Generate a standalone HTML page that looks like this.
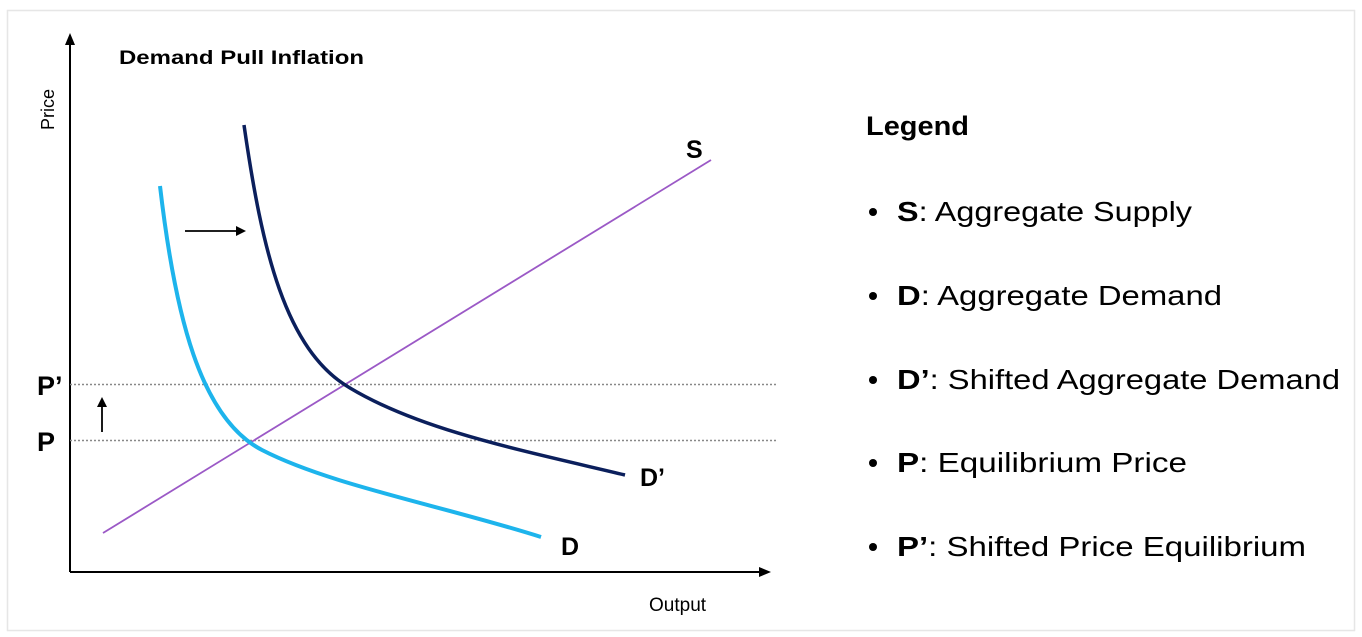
<!DOCTYPE html>
<html><head><meta charset="utf-8"><style>
html,body{margin:0;padding:0;background:#fff;}
svg{display:block;}
text{font-family:"Liberation Sans",sans-serif;fill:#000;}
</style></head><body>
<svg width="1362" height="637" viewBox="0 0 1362 637" xmlns="http://www.w3.org/2000/svg">
<rect x="7.5" y="10.5" width="1347" height="620" fill="#fff" stroke="#e6e6e6" stroke-width="1.5"/>
<line x1="70" y1="572" x2="70" y2="42" stroke="#000" stroke-width="2"/>
<polygon points="70,33 65,45 75,45" fill="#000"/>
<line x1="70" y1="572" x2="762" y2="572" stroke="#000" stroke-width="2"/>
<polygon points="771,572 759,567 759,577" fill="#000"/>
<text x="0" y="0" font-size="18" transform="translate(54,130) rotate(-90)">Price</text>
<text x="649" y="611" font-size="19">Output</text>
<text x="119" y="64" font-size="19" font-weight="bold" textLength="245" lengthAdjust="spacingAndGlyphs">Demand Pull Inflation</text>
<line x1="70" y1="384.5" x2="778" y2="384.5" stroke="#888" stroke-width="1.5" stroke-dasharray="2,2"/>
<line x1="70" y1="440.5" x2="778" y2="440.5" stroke="#888" stroke-width="1.5" stroke-dasharray="2,2"/>
<text x="37" y="395" font-size="27" font-weight="bold">P’</text>
<text x="37" y="451" font-size="27" font-weight="bold">P</text>
<line x1="103" y1="533" x2="711" y2="160" stroke="#9b59c6" stroke-width="1.8"/>
<text x="686" y="158" font-size="25" font-weight="bold">S</text>
<path d="M160,186 C175,315 200,418 262,450 C330,485 440,505 541,537" fill="none" stroke="#1db4ec" stroke-width="4"/>
<text x="561" y="555" font-size="25" font-weight="bold">D</text>
<path d="M244,125 C262,250 285,350 350,388 C420,430 520,450 625,475" fill="none" stroke="#0b1f5c" stroke-width="3.5"/>
<text x="640" y="486" font-size="25" font-weight="bold">D’</text>
<line x1="185" y1="231" x2="238" y2="231" stroke="#000" stroke-width="1.8"/>
<polygon points="246,231 236,226 236,236" fill="#000"/>
<line x1="102" y1="432" x2="102" y2="405" stroke="#000" stroke-width="1.8"/>
<polygon points="102,397 97,407 107,407" fill="#000"/>
<text x="866" y="135" font-size="27" font-weight="bold" textLength="103" lengthAdjust="spacingAndGlyphs">Legend</text>
<g font-size="28">
<circle cx="873" cy="212" r="4" fill="#000"/>
<text x="897" y="221" textLength="295" lengthAdjust="spacingAndGlyphs"><tspan font-weight="bold">S</tspan>: Aggregate Supply</text>
<circle cx="873" cy="296" r="4" fill="#000"/>
<text x="897" y="305" textLength="325" lengthAdjust="spacingAndGlyphs"><tspan font-weight="bold">D</tspan>: Aggregate Demand</text>
<circle cx="873" cy="380" r="4" fill="#000"/>
<text x="897" y="389" textLength="443" lengthAdjust="spacingAndGlyphs"><tspan font-weight="bold">D’</tspan>: Shifted Aggregate Demand</text>
<circle cx="873" cy="463" r="4" fill="#000"/>
<text x="897" y="472" textLength="290" lengthAdjust="spacingAndGlyphs"><tspan font-weight="bold">P</tspan>: Equilibrium Price</text>
<circle cx="873" cy="547" r="4" fill="#000"/>
<text x="897" y="556" textLength="409" lengthAdjust="spacingAndGlyphs"><tspan font-weight="bold">P’</tspan>: Shifted Price Equilibrium</text>
</g>
</svg>
</body></html>
